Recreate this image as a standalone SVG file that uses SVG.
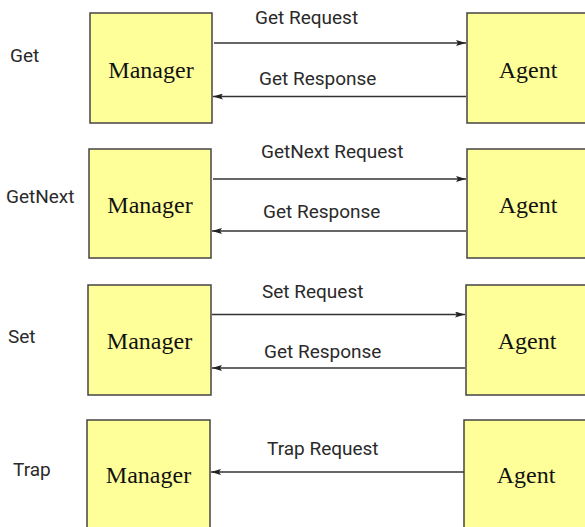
<svg xmlns="http://www.w3.org/2000/svg" width="585" height="527" viewBox="0 0 585 527">
  <style>
    .box { fill: #ffff99; stroke: #444; stroke-width: 1.5; }
    .name { font-family: "Liberation Serif", "Times New Roman", serif; font-size: 24px; fill: #111; text-anchor: middle; }
    .lbl { font-family: Roboto, "Liberation Sans", Arial, sans-serif; font-size: 19px; fill: #2a2a2a; }
    .msg { stroke: #333; stroke-width: 1.5; fill: none; marker-end: url(#arrow); }
  </style>
  <defs>
    <marker id="arrow" viewBox="0 0 10 6" refX="10" refY="3" markerWidth="10" markerHeight="6" markerUnits="userSpaceOnUse" orient="auto">
      <path d="M0,0 L10,3 L0,6 L2,3 Z" fill="#222"/>
    </marker>
  </defs>
  <rect width="585" height="527" fill="#fff"/>

  <!-- operation labels -->
  <g id="labels">
    <text class="lbl" x="10" y="62">Get</text>
    <text class="lbl" x="6" y="203">GetNext</text>
    <text class="lbl" x="8" y="343">Set</text>
    <text class="lbl" x="13" y="476">Trap</text>
  </g>

  <!-- Get -->
  <g id="manager-get">
    <rect class="box" x="90" y="13" width="122" height="110"/>
    <text class="name" x="151" y="77.5">Manager</text>
  </g>
  <g id="agent-get">
    <rect class="box" x="467" y="13" width="122" height="110"/>
    <text class="name" x="528" y="77.5">Agent</text>
  </g>

  <!-- GetNext -->
  <g id="manager-getnext">
    <rect class="box" x="89" y="149" width="122" height="109"/>
    <text class="name" x="150" y="213">Manager</text>
  </g>
  <g id="agent-getnext">
    <rect class="box" x="467" y="149" width="122" height="109"/>
    <text class="name" x="528" y="213">Agent</text>
  </g>

  <!-- Set -->
  <g id="manager-set">
    <rect class="box" x="88" y="285" width="123" height="110"/>
    <text class="name" x="149.5" y="349">Manager</text>
  </g>
  <g id="agent-set">
    <rect class="box" x="466" y="285" width="122" height="110"/>
    <text class="name" x="527" y="349">Agent</text>
  </g>

  <!-- Trap -->
  <g id="manager-trap">
    <rect class="box" x="87" y="420" width="123" height="120"/>
    <text class="name" x="148.5" y="483">Manager</text>
  </g>
  <g id="agent-trap">
    <rect class="box" x="464" y="420" width="124" height="120"/>
    <text class="name" x="526" y="483">Agent</text>
  </g>

  <!-- messages -->
  <g id="connectors">
    <line class="msg" x1="214" y1="43" x2="466" y2="43"/>
    <line class="msg" x1="466" y1="96.5" x2="213" y2="96.5"/>
    <line class="msg" x1="213" y1="179" x2="466" y2="179"/>
    <line class="msg" x1="466" y1="231" x2="212" y2="231"/>
    <line class="msg" x1="212" y1="314.5" x2="465" y2="314.5"/>
    <line class="msg" x1="465" y1="368" x2="212" y2="368"/>
    <line class="msg" x1="464" y1="472" x2="211" y2="472"/>
  </g>

  <!-- message labels -->
  <g id="message-labels">
    <text class="lbl" x="255" y="24">Get Request</text>
    <text class="lbl" x="259" y="85">Get Response</text>
    <text class="lbl" x="261" y="158">GetNext Request</text>
    <text class="lbl" x="263" y="218">Get Response</text>
    <text class="lbl" x="262" y="298">Set Request</text>
    <text class="lbl" x="264" y="358">Get Response</text>
    <text class="lbl" x="267" y="455">Trap Request</text>
  </g>
</svg>
